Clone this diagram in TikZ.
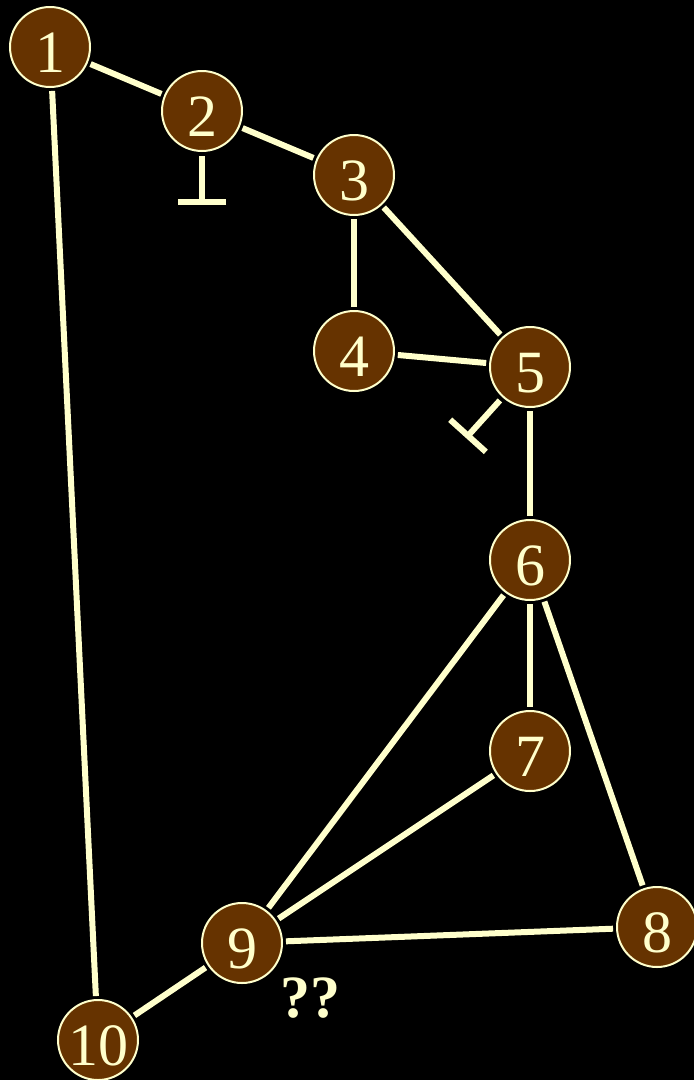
\documentclass[tikz,border=0pt]{standalone}
\usepackage{fontspec}
\setmainfont{Liberation Serif}
\usetikzlibrary{arrows.meta}
\definecolor{cream}{HTML}{FFFFCC}
\definecolor{brownfill}{HTML}{663300}
\begin{document}
\begin{tikzpicture}[x=1pt,y=-1pt,
  vert/.style={circle,draw=cream,line width=2pt,fill=brownfill,text=cream,minimum size=80pt,inner sep=0pt,
    font=\fontsize{60}{60}\selectfont,text height=50pt,text depth=0pt},
  edge/.style={draw=cream,line width=6pt,shorten <=3pt,shorten >=3pt},
  inhib/.style={draw=cream,line width=6pt,shorten <=4pt,-{Bar[width=48pt]}}]
\fill[black] (0,0) rectangle (694,1080);
\useasboundingbox (0,0) rectangle (694,1080);
\node[vert] (n1) at (50,47) {1};
\node[vert] (n2) at (202,111) {2};
\node[vert] (n3) at (354,175) {3};
\node[vert] (n4) at (354,351) {4};
\node[vert] (n5) at (530,367) {5};
\node[vert] (n6) at (530,560) {6};
\node[vert] (n7) at (530,751) {7};
\node[vert] (n8) at (657,927) {8};
\node[vert] (n9) at (242,943) {9};
\node[vert] (n10) at (98,1040) {10};
\coordinate (t2) at (202,205);
\coordinate (t5) at (466,438);
\node[text=cream,font=\fontsize{60}{60}\selectfont\bfseries,inner sep=0pt] (q) at (310,998) {??};
\draw[edge] (n1) -- (n2);
\draw[edge] (n2) -- (n3);
\draw[edge] (n3) -- (n4);
\draw[edge] (n3) -- (n5);
\draw[edge] (n4) -- (n5);
\draw[edge] (n5) -- (n6);
\draw[edge] (n6) -- (n7);
\draw[edge] (n6) -- (n8);
\draw[edge] (n6) -- (n9);
\draw[edge] (n7) -- (n9);
\draw[edge] (n8) -- (n9);
\draw[edge] (n9) -- (n10);
\draw[edge] (n1) -- (n10);
\draw[inhib] (n2) -- (t2);
\draw[inhib] (n5) -- (t5);
\end{tikzpicture}
\end{document}
